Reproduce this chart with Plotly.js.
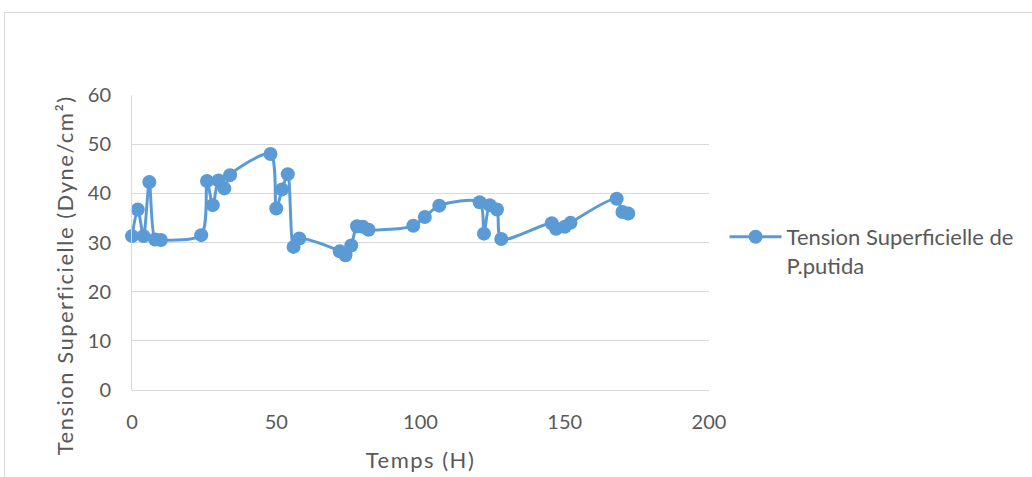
<!DOCTYPE html>
<html>
<head>
<meta charset="utf-8">
<script src="https://cdn.plot.ly/plotly-3.0.1.min.js"></script>
<style>
html,body{margin:0;padding:0;background:#fff;overflow:hidden;}
#chart{width:1032px;height:477px;position:relative;}
#frame{position:absolute;left:4px;top:12px;width:1100px;height:520px;border:1px solid #d9d9d9;pointer-events:none;}
#chart .xtitle, #chart .annotation-text{letter-spacing:1.5px;}
</style>
</head>
<body>
<div id="chart"></div>
<div id="frame"></div>
<script>
const seriesName = "Tension Superficielle de<br>P.putida";
const timeHours = [0,2,4,6,8,10,24,26,28,30,32,34,48,50,52,54,56,58,72,74,76,78,80,82,97.5,101.5,106.5,120.5,122,124,126.5,128,145.5,147,150,152,168,170,172];
const tension = [31.3,36.7,31.3,42.3,30.6,30.5,31.5,42.5,37.6,42.6,41,43.7,48,36.9,40.8,43.9,29.1,30.8,28.2,27.4,29.4,33.3,33.2,32.6,33.4,35.2,37.5,38.2,31.8,37.6,36.7,30.7,33.9,32.8,33.2,34,38.9,36.2,35.9];
const xTicks = [0,50,100,150,200];
const yTicks = [0,10,20,30,40,50,60];
const xTitle = "Temps (H)";
const yTitle = "Tension Superficielle (Dyne/cm²)";

const blue = "#5B9BD5";
const txt = "#595959";
const fontFam = "Lato, 'Open Sans', sans-serif";

Plotly.newPlot("chart", [{
  x: timeHours, y: tension, name: seriesName,
  type: "scatter", mode: "lines+markers",
  line: {color: blue, width: 3, shape: "spline", smoothing: 0.8},
  marker: {color: blue, size: 14},
  cliponaxis: false,
  showlegend: true
}], {
  width: 1032, height: 477,
  margin: {l: 132, r: 323, t: 95, b: 87},
  paper_bgcolor: "#fff", plot_bgcolor: "#fff",
  font: {family: fontFam, size: 20, color: txt},
  xaxis: {
    range: [0, 200], tickvals: xTicks, ticktext: xTicks.map(String),
    showgrid: false, zeroline: false, showline: true, linecolor: "#d9d9d9", linewidth: 1,
    ticks: "outside", ticklen: 14, tickcolor: "rgba(0,0,0,0)",
    tickfont: {family: fontFam, size: 20, color: txt},
    title: {text: xTitle, font: {family: fontFam, size: 22, color: txt}, standoff: 20}
  },
  yaxis: {
    range: [0, 60], tickvals: yTicks, ticktext: yTicks.map(String),
    showgrid: true, gridcolor: "#d9d9d9", gridwidth: 1, zeroline: false,
    showline: true, linecolor: "#d9d9d9", linewidth: 1,
    ticks: "outside", ticklen: 16, tickcolor: "rgba(0,0,0,0)",
    tickfont: {family: fontFam, size: 20, color: txt}
  },
  annotations: [{
    text: yTitle, textangle: -90, showarrow: false,
    xref: "paper", yref: "paper", x: -0.116, y: 0.39,
    xanchor: "center", yanchor: "middle",
    font: {family: fontFam, size: 22, color: txt}
  }],
  legend: {
    x: 1.027, y: 0.59, xanchor: "left", yanchor: "top", valign: "top",
    font: {family: fontFam, size: 22, color: txt},
    bgcolor: "rgba(0,0,0,0)", borderwidth: 0, itemwidth: 52, tracegroupgap: 0
  }
}, {displayModeBar: false, staticPlot: true});
</script>
</body>
</html>
